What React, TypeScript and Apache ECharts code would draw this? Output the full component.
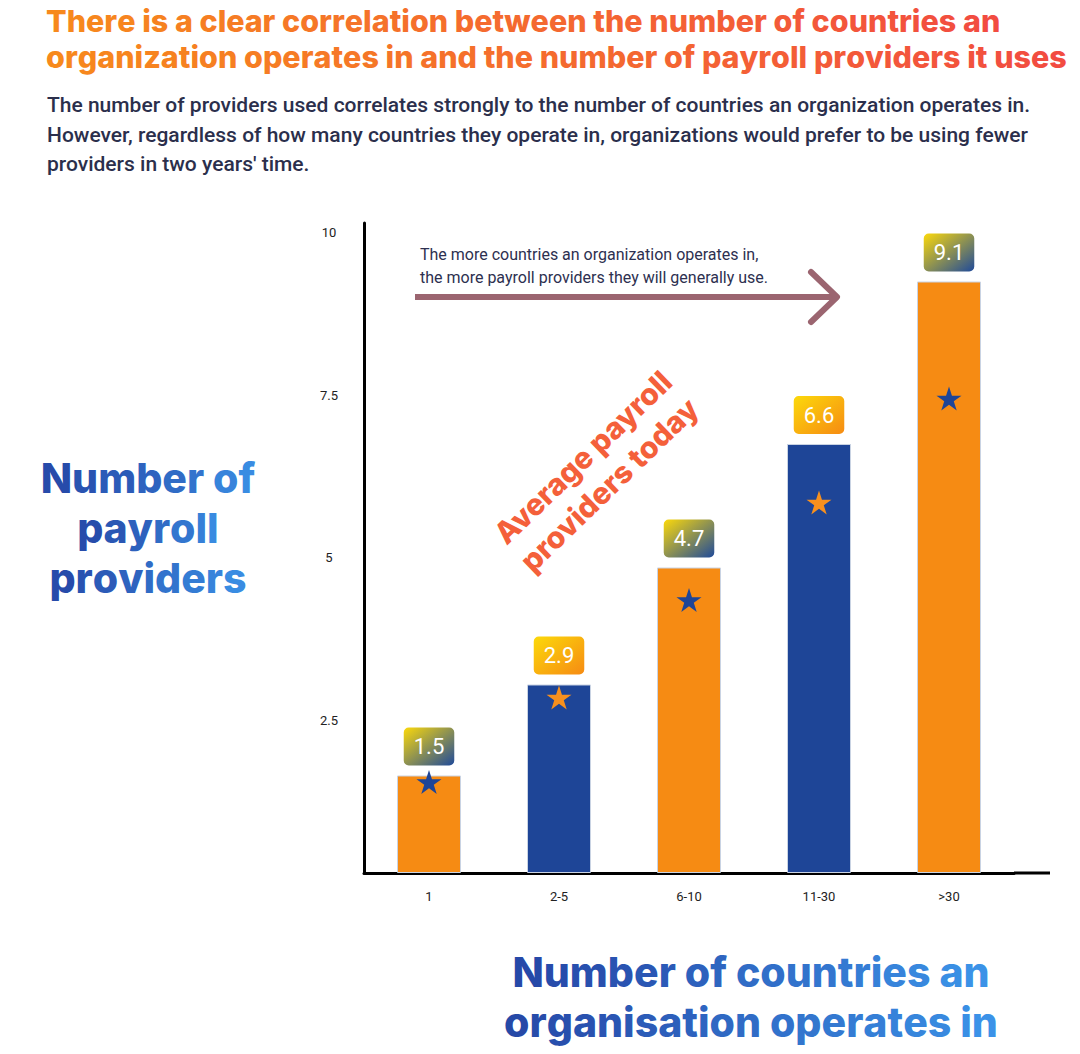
import React, { useEffect, useRef } from "react";
import * as echarts from "echarts";

const categories = ["1", "2-5", "6-10", "11-30", ">30"];
const todayValues = [1.5, 2.9, 4.7, 6.6, 9.1];
const futureValues = [1.4, 2.7, 4.2, 5.7, 7.3];
const yTickLabels = ["2.5", "5", "7.5", "10"];

const titleText =
  "There is a clear correlation between the number of countries an\norganization operates in and the number of payroll providers it uses";
const subtitleLines = [
  "The number of providers used correlates strongly to the number of countries an organization operates in.",
  "However, regardless of how many countries they operate in, organizations would prefer to be using fewer",
  "providers in two years' time.",
];
const arrowNote = [
  "The more countries an organization operates in,",
  "the more payroll providers they will generally use.",
];
const rotatedNote = "Average payroll\nproviders today";
const yTitle = "Number of\npayroll\nproviders";
const xTitle = "Number of countries an\norganisation operates in";

const ORANGE = "#F68B13";
const BLUE = "#1E4597";
const STAR = "path://M50 0 L61.23 34.55 L97.55 34.55 L68.17 55.9 L79.39 90.45 L50 69.1 L20.61 90.45 L31.83 55.9 L2.45 34.55 L38.77 34.55 Z";

function hex(c: string) {
  return [1, 3, 5].map((i) => parseInt(c.slice(i, i + 2), 16));
}
function mix(c0: string, c1: string, t: number) {
  const a = hex(c0);
  const b = hex(c1);
  return "rgb(" + a.map((v, i) => Math.round(v + (b[i] - v) * t)).join(",") + ")";
}
function gradRich(text: string, c0: string, c1: string, base: any) {
  const rich: any = {};
  let k = 0;
  const out = text.split("\n").map((line) => {
    const chars = line.split("");
    return chars
      .map((ch, j) => {
        const frac = (j + 0.5) / chars.length;
        const name = "g" + k++;
        rich[name] = { ...base, fill: mix(c0, c1, frac) };
        return "{" + name + "|" + ch + "}";
      })
      .join("");
  });
  return { text: out.join("\n"), rich };
}

export default function App() {
  const ref = useRef<HTMLDivElement>(null);
  useEffect(() => {
    const chart = echarts.init(ref.current!, undefined, { renderer: "svg" });
    const barColors = todayValues.map((_, i) => (i % 2 === 0 ? ORANGE : BLUE));
    const starColors = todayValues.map((_, i) => (i % 2 === 0 ? BLUE : "#F7901E"));
    const boxGrad = (i: number) =>
      new echarts.graphic.LinearGradient(0, 0, 1, 1, [
        { offset: 0, color: "#FCD90A" },
        { offset: 1, color: i % 2 === 0 ? "#1F4A9A" : "#F68B13" },
      ]);
    const headFont = "Inter";
    const title = gradRich(titleText, "#F7891C", "#F24C41", {
      fontSize: 30.5,
      fontWeight: 800,
      fontFamily: headFont,
      lineHeight: 36,
    });
    const yT = gradRich(yTitle, "#2647A6", "#3A90E6", {
      fontSize: 41,
      fontWeight: 800,
      fontFamily: headFont,
      lineHeight: 50,
    });
    const xT = gradRich(xTitle, "#2647A6", "#3B94E9", {
      fontSize: 41,
      fontWeight: 800,
      fontFamily: headFont,
      lineHeight: 50,
    });
    chart.setOption({
      animation: false,
      grid: { left: 364, top: 223, width: 650, height: 650 },
      xAxis: {
        type: "category",
        data: categories,
        axisLine: { lineStyle: { color: "#000", width: 3 } },
        axisTick: { show: false },
        axisLabel: { color: "#222", fontSize: 13, fontFamily: "Roboto", margin: 17 },
      },
      yAxis: {
        type: "value",
        min: 0,
        max: 10,
        interval: 2.5,
        splitLine: { show: false },
        axisLine: { show: true, lineStyle: { color: "#000", width: 3 } },
        axisTick: { show: false },
        axisLabel: {
          color: "#222",
          fontSize: 13,
          fontFamily: "Roboto",
          align: "center",
          margin: 35,
          verticalAlign: "top",
          padding: [3, 0, 0, 0],
          formatter: (v: number) => (yTickLabels.includes(String(v)) ? String(v) : ""),
        },
      },
      series: [
        {
          type: "bar",
          barWidth: 64,
          data: todayValues.map((v, i) => ({
            value: v,
            itemStyle: { color: barColors[i] },
            label: { backgroundColor: boxGrad(i) },
          })),
          itemStyle: { borderColor: "#c9d3e3", borderWidth: 1 },
          label: {
            show: true,
            position: "top",
            distance: 10,
            color: "#fff",
            fontSize: 22,
            fontFamily: "Roboto",
            lineHeight: 26,
            padding: [6, 10, 6, 10],
            borderRadius: 5,
          },
          z: 2,
        },
        {
          type: "scatter",
          symbol: STAR,
          symbolSize: [25, 24],
          itemStyle: { opacity: 1 },
          data: futureValues.map((v, i) => ({
            value: v,
            itemStyle: { color: starColors[i], opacity: 1 },
          })),
          z: 5,
        },
      ],
      graphic: [
        {
          type: "text",
          x: 46,
          y: 38,
          style: {
            text: title.text,
            rich: title.rich,
            textVerticalAlign: "middle",
          },
        },
        ...subtitleLines.map((t, i) => ({
          type: "text",
          x: 47,
          y: 105 + i * 29.5,
          style: {
            text: t,
            fill: "#2B2F4C",
            font: "500 21px Roboto",
            textVerticalAlign: "middle",
          },
        })),
        ...arrowNote.map((t, i) => ({
          type: "text",
          x: 420,
          y: 254 + i * 23,
          style: {
            text: t,
            fill: "#2D3050",
            font: "16px Roboto",
            textVerticalAlign: "middle",
          },
        })),
        {
          type: "line",
          shape: { x1: 415, y1: 297, x2: 836, y2: 297 },
          style: { stroke: "#9B6570", lineWidth: 6, lineCap: "butt" },
        },
        {
          type: "polyline",
          shape: { points: [[811, 272], [837, 297], [811, 322]] },
          style: { stroke: "#9B6570", lineWidth: 6, lineCap: "round", lineJoin: "round", fill: "none" },
        },
        {
          type: "line",
          shape: { x1: 1014, y1: 873, x2: 1050, y2: 873 },
          style: { stroke: "#000", lineWidth: 3 },
        },
        {
          type: "text",
          x: 596,
          y: 471,
          rotation: (44 * Math.PI) / 180,
          style: {
            text: rotatedNote,
            fill: "#F4603A",
            font: `800 30px ${headFont}`,
            lineHeight: 38,
            textAlign: "center",
            textVerticalAlign: "middle",
          },
        },
        {
          type: "text",
          x: 148,
          y: 528,
          style: {
            text: yT.text,
            rich: yT.rich,
            textAlign: "center",
            textVerticalAlign: "middle",
          },
        },
        {
          type: "text",
          x: 751,
          y: 997,
          style: {
            text: xT.text,
            rich: xT.rich,
            textAlign: "center",
            textVerticalAlign: "middle",
          },
        },
      ],
    });
    return () => chart.dispose();
  }, []);
  return (
    <div
      ref={ref}
      style={{ position: "fixed", left: 0, top: 0, width: 1080, height: 1054, background: "#fff" }}
    />
  );
}
